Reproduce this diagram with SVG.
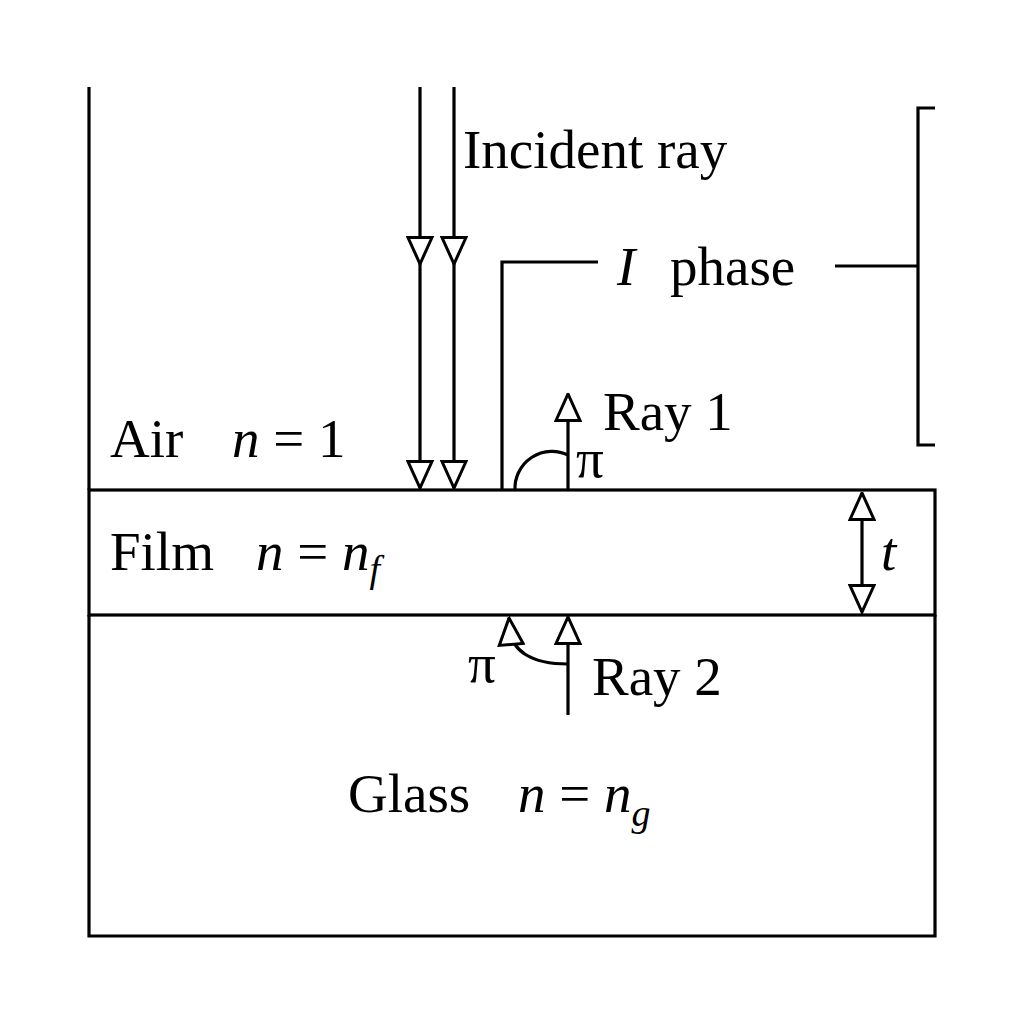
<svg xmlns="http://www.w3.org/2000/svg" width="1024" height="1024" viewBox="0 0 1024 1024">
<style>
.l{stroke:#000;stroke-width:3.2;fill:none}
text{font-family:"Liberation Serif","Times New Roman",serif;font-size:55px;fill:#000}
.i{font-style:italic}
</style>
<defs>
<marker id="a" viewBox="0 0 30 28" refX="28.5" refY="14" markerWidth="30" markerHeight="28" markerUnits="userSpaceOnUse" orient="auto-start-reverse">
<path d="M2,2 L28.5,14 L2,26 Z" fill="#fff" stroke="#000" stroke-width="3"/>
</marker>
</defs>
<rect width="1024" height="1024" fill="#fff"/>
<g id="layers">
<rect class="l" x="89" y="490" width="846" height="125"/>
<path class="l" d="M89,615 V936 H935 V615"/>
<path class="l" d="M89,87 V490"/>
<path class="l" d="M935,108 H918 V445 H935"/>
</g>
<g id="connectors">
<path class="l" d="M420,87 V264" marker-end="url(#a)"/>
<path class="l" d="M454,87 V264" marker-end="url(#a)"/>
<path class="l" d="M420,264 V488" marker-end="url(#a)"/>
<path class="l" d="M454,264 V488" marker-end="url(#a)"/>
<path class="l" d="M502,490 V262 H598"/>
<path class="l" d="M835,266 H918"/>
<path class="l" d="M568,490 V394" marker-end="url(#a)"/>
<path class="l" d="M515,490 A37,37 0 0 1 568,455"/>
<path class="l" d="M568,715 V617" marker-end="url(#a)"/>
<path class="l" d="M568,664 C530,664 512,650 510,630 L509,618" marker-end="url(#a)"/>
<path class="l" d="M862,493 V612" marker-start="url(#a)" marker-end="url(#a)"/>
</g>
<g id="labels">
<text x="463" y="168" font-size="52">Incident ray</text>
<text x="617" y="285" font-size="56"><tspan class="i">I</tspan><tspan x="670">phase</tspan></text>
<text x="603" y="430" font-size="57">Ray 1</text>
<text x="576" y="477" font-size="50">π</text>
<text x="110" y="457">Air<tspan class="i" x="232">n</tspan> = 1</text>
<text x="110" y="570">Film<tspan class="i" x="256">n</tspan> = <tspan class="i">n</tspan><tspan class="i" font-size="38" dy="12">f</tspan></text>
<text x="881" y="570" class="i">t</text>
<text x="468" y="682" font-size="50">π</text>
<text x="592" y="695" font-size="57">Ray 2</text>
<text x="348" y="812">Glass<tspan class="i" x="518">n</tspan> = <tspan class="i">n</tspan><tspan class="i" font-size="38" dy="14">g</tspan></text>
</g>
</svg>
